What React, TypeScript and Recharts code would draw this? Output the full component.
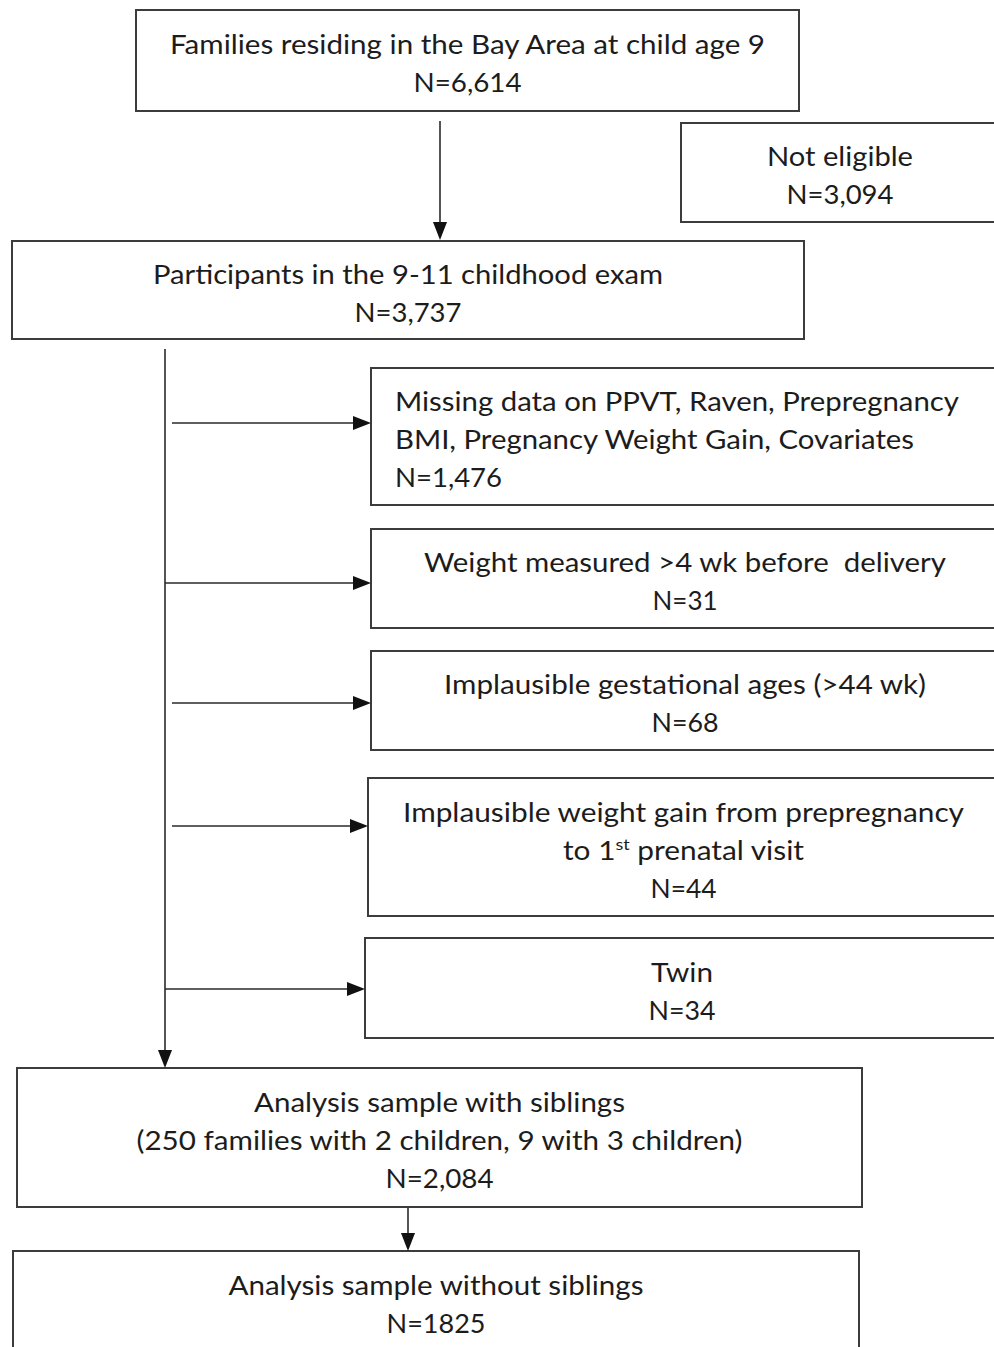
import { ComposedChart, XAxis, YAxis, ReferenceArea, ReferenceLine } from "recharts"

// flow chart stages, top to bottom (text in {} is superscript)
const stageLines: string[][] = [
  ["Families residing in the Bay Area at child age 9"],
  ["Not eligible"],
  ["Participants in the 9-11 childhood exam"],
  ["Missing data on PPVT, Raven, Prepregnancy", "BMI, Pregnancy Weight Gain, Covariates"],
  ["Weight measured >4 wk before  delivery"],
  ["Implausible gestational ages (>44 wk)"],
  ["Implausible weight gain from prepregnancy", "to 1{st} prenatal visit"],
  ["Twin"],
  ["Analysis sample with siblings", "(250 families with 2 children, 9 with 3 children)"],
  ["Analysis sample without siblings"],
]

const stageCounts = ["6,614", "3,094", "3,737", "1,476", "31", "68", "44", "34", "2,084", "1825"]

// layout in page pixels (x to the right, y down)
const frames = [
  { x1: 136, x2: 799, y1: 10, y2: 111 },
  { x1: 681, x2: 999, y1: 123, y2: 222 },
  { x1: 12, x2: 804, y1: 241, y2: 339 },
  { x1: 371, x2: 999, y1: 368, y2: 505 },
  { x1: 371, x2: 999, y1: 529, y2: 628 },
  { x1: 371, x2: 999, y1: 651, y2: 750 },
  { x1: 368, x2: 999, y1: 778, y2: 916 },
  { x1: 365, x2: 999, y1: 938, y2: 1038 },
  { x1: 17, x2: 862, y1: 1068, y2: 1207 },
  { x1: 13, x2: 859, y1: 1251, y2: 1352 },
]

const lineWidths = [
  [595, 108],
  [146, 107],
  [510, 107],
  [564, 519, 107],
  [522, 65],
  [482, 67],
  [561, 241, 66],
  [62, 67],
  [371, 606, 108],
  [415, 99],
]

const leftAligned = [3]

const arrows = [
  { x1: 440, y1: 121, x2: 440, y2: 240 },
  { x1: 165, y1: 349, x2: 165, y2: 1068 },
  { x1: 172, y1: 423, x2: 371, y2: 423 },
  { x1: 165, y1: 583, x2: 371, y2: 583 },
  { x1: 172, y1: 703, x2: 371, y2: 703 },
  { x1: 172, y1: 826, x2: 368, y2: 826 },
  { x1: 165, y1: 989, x2: 365, y2: 989 },
  { x1: 408, y1: 1208, x2: 408, y2: 1251 },
]

const FONT = "Lato, 'Open Sans', sans-serif"
const FONT_SIZE = 26.5
const LINE_GAP = 38

function renderLine(str: string) {
  const m = str.match(/^(.*?)\{(.+?)\}(.*)$/)
  if (!m) return str
  return (
    <>
      {m[1]}
      <tspan fontSize={16} dy={-10}>{m[2]}</tspan>
      <tspan dy={10}>{m[3]}</tspan>
    </>
  )
}

function makeBox(i: number) {
  return (p: any) => {
    const { x, y, width, height } = p
    const lines = [...stageLines[i], "N=" + stageCounts[i]]
    const n = lines.length
    const cy = y + height / 2
    const left = leftAligned.includes(i)
    const tx = left ? x + 24 : x + width / 2
    return (
      <g>
        <rect x={x} y={y} width={width} height={height} fill="#fff" stroke="#3c3c3c" strokeWidth={2} />
        {lines.map((ln, k) => (
          <text
            key={k}
            x={tx}
            y={cy + (k - (n - 1) / 2) * LINE_GAP + 12.5}
            textAnchor={left ? "start" : "middle"}
            fontFamily={FONT}
            fontSize={FONT_SIZE}
            fill="#1c1c1c"
            textLength={lineWidths[i][k]}
            lengthAdjust="spacingAndGlyphs"
            style={{ whiteSpace: "pre" }}
          >
            {renderLine(ln)}
          </text>
        ))}
      </g>
    )
  }
}

const Arrow = (p: any) => {
  const { x1, y1, x2, y2 } = p
  const dx = x2 - x1
  const dy = y2 - y1
  const len = Math.hypot(dx, dy) || 1
  const ux = dx / len
  const uy = dy / len
  const L = 18
  const W = 7
  const bx = x2 - ux * L
  const by = y2 - uy * L
  const pts = `${x2},${y2} ${bx - uy * W},${by + ux * W} ${bx + uy * W},${by - ux * W}`
  return (
    <g>
      <line x1={x1} y1={y1} x2={bx} y2={by} stroke="#2a2a2a" strokeWidth={1.6} />
      <polygon points={pts} fill="#111" />
    </g>
  )
}

export default function App() {
  return (
    <div style={{ position: "absolute", left: 0, top: 0, width: 994, height: 1347, background: "#fff" }}>
      <ComposedChart width={994} height={1347} margin={{ top: 0, right: 0, bottom: 0, left: 0 }}>
        <XAxis type="number" dataKey="x" domain={[0, 994]} allowDataOverflow hide />
        <YAxis type="number" dataKey="y" domain={[0, 1347]} allowDataOverflow reversed hide />
        {frames.map((f, i) => (
          <ReferenceArea
            key={"b" + i}
            x1={f.x1}
            x2={f.x2}
            y1={f.y1}
            y2={f.y2}
            ifOverflow="visible"
            shape={makeBox(i)}
          />
        ))}
        {arrows.map((a, i) => (
          <ReferenceLine
            key={"a" + i}
            segment={[
              { x: a.x1, y: a.y1 },
              { x: a.x2, y: a.y2 },
            ]}
            ifOverflow="visible"
            shape={Arrow}
          />
        ))}
      </ComposedChart>
    </div>
  )
}
